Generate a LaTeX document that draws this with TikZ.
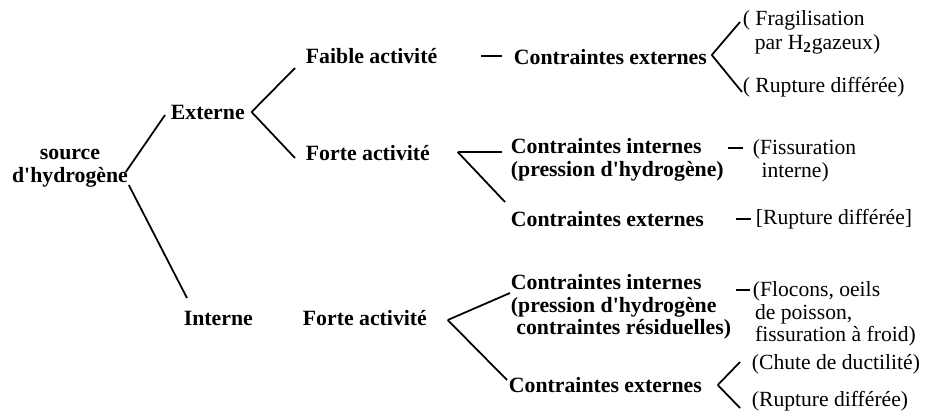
\documentclass[tikz,border=0pt]{standalone}
\usepackage{fontspec}
\setmainfont{Liberation Serif}
\begin{document}
\begin{tikzpicture}[%
    x=0.02cm,
    y=-0.02cm,
    line width=1pt,
    branche/.style={font=\fontsize{12.4}{12.8}\selectfont\bfseries, inner sep=0pt, anchor=west, align=left},
    effet/.style={font=\fontsize{12.3}{12.8}\selectfont, inner sep=0pt, anchor=west, align=left}
  ]

  \useasboundingbox (0,0) rectangle (925,413);

  \node[branche, anchor=center, align=center] (src) at (70,168) {source\\d\textquotesingle hydrogène};
  \node[branche] (ext)    at (170,112) {Externe};
  \node[branche] (int)    at (183,318) {Interne};
  \node[branche] (faible) at (305,56)  {Faible activité};
  \node[branche] (forteA) at (305,153) {Forte activité};
  \node[branche] (forteB) at (302,318) {Forte activité};

  \node[branche] (ceA) at (513,57)  {Contraintes externes};
  \node[branche] (ciA) at (510,160) {Contraintes internes\\(pression d\textquotesingle hydrogène)};
  \node[branche] (ceB) at (510,219) {Contraintes externes};
  \node[branche] (ciB) at (510,307) {Contraintes internes\\(pression d\textquotesingle hydrogène\\\hspace*{0.25em}contraintes résiduelles)};
  \node[branche] (ceC) at (508,385) {Contraintes externes};

  \node[effet] (frag)  at (742,32)  {( Fragilisation\\[1pt]\hspace*{0.55em}par H\textsubscript{\bfseries 2}gazeux)};
  \node[effet] (rupA)  at (742,87)  {( Rupture différée)};
  \node[effet] (fiss)  at (752,161) {(Fissuration\\\hspace*{0.4em}interne)};
  \node[effet] (rupB)  at (755,219) {[Rupture différée]};
  \node[effet] (floc)  at (752,314) {(Flocons, oeils\\\hspace*{0.1em}de poisson,\\\hspace*{0.1em}fissuration à froid)};
  \node[effet] (chute) at (751,364) {(Chute de ductilité)};
  \node[effet] (rupC)  at (751,401) {(Rupture différée)};

  \path ([shift={(-3,4)}]src.east)   edge ([shift={(-5,3)}]ext.west)
        ([shift={(0,17)}]src.east)   edge ([shift={(4,-20)}]int.west)
        ([shift={(6,0)}]ext.east)    edge ([shift={(-10,12)}]faible.west)
                                     edge ([shift={(-10,5)}]forteA.west)
        ([shift={(43,0)}]faible.east) edge ([shift={(-11,-1)}]ceA.west)
        ([shift={(4,-2)}]ceA.east)   edge ([shift={(-2,-10)}]frag.west)
                                     edge ([shift={(0,5)}]rupA.west)
        ([shift={(27,-1)}]forteA.east) edge ([shift={(-8,-8)}]ciA.west)
                                     edge ([shift={(-5,-17)}]ceB.west)
        ([shift={(3,-12)}]ciA.east)  edge ([shift={(-9,-13)}]fiss.west)
        ([shift={(31,0)}]ceB.east)   edge ([shift={(-4,0)}]rupB.west)
        ([shift={(20,2)}]forteB.east) edge ([shift={(0,-14)}]ciB.west)
                                     edge ([shift={(-1,-5)}]ceC.west)
        ([shift={(4,-17)}]ciB.east)  edge ([shift={(-2,-24)}]floc.west)
        ([shift={(15,0)}]ceC.east)   edge ([shift={(-11,-2)}]chute.west)
                                     edge ([shift={(-11,7)}]rupC.west);

\end{tikzpicture}
\end{document}
